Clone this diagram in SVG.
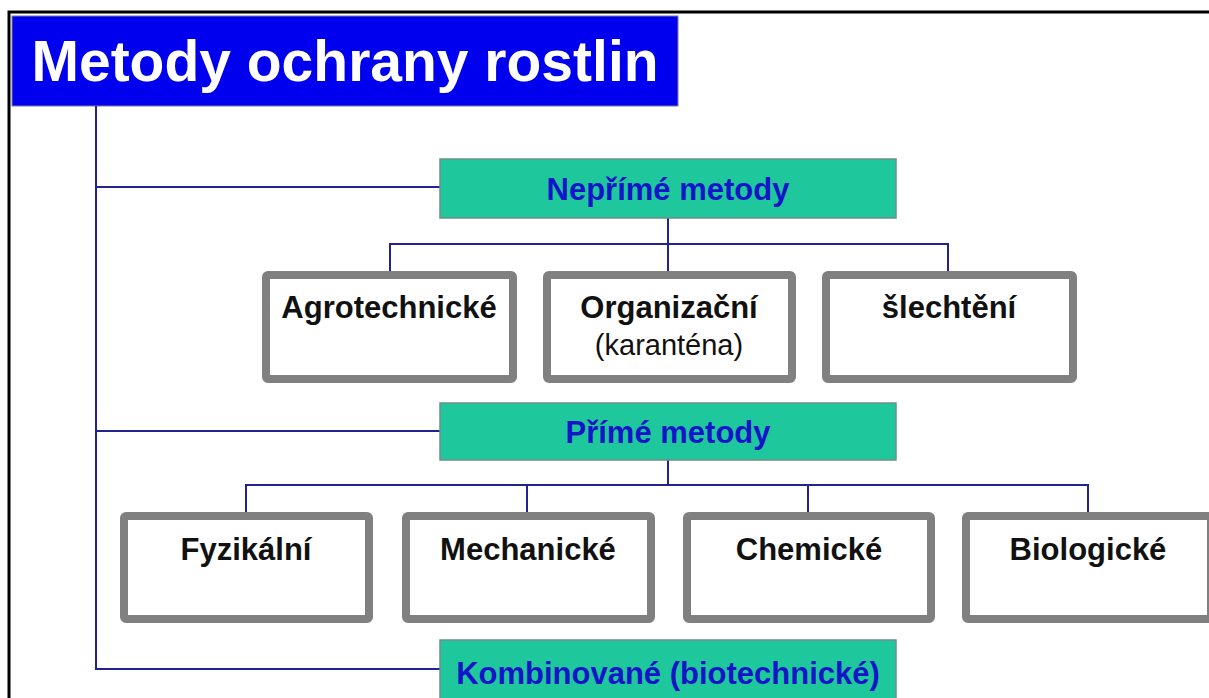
<svg xmlns="http://www.w3.org/2000/svg" width="1209" height="698" viewBox="0 0 1209 698">
<style>
.frame{stroke:#000;stroke-width:3;fill:none}
.conn{stroke:#23238f;stroke-width:2;fill:none}
.green{fill:#1fc89c;stroke:#6f8f86;stroke-width:1.5}
.gray{fill:#fff;stroke:#808080;stroke-width:8}
.gt{font-family:"Liberation Sans",Arial,sans-serif;font-weight:bold;font-size:31px;fill:#1414c8;text-anchor:middle}
.bt{font-family:"Liberation Sans",Arial,sans-serif;font-weight:bold;font-size:31px;fill:#111;text-anchor:middle}
.st{font-family:"Liberation Sans",Arial,sans-serif;font-size:29px;fill:#111;text-anchor:middle}
</style>
<rect width="1209" height="698" fill="#fff"/>
<path class="frame" d="M9,698 V12 H1209"/>
<g id="title">
<rect x="12" y="16" width="666" height="90" fill="#0000ee" stroke="#7a7aa0" stroke-width="1"/>
<text x="345" y="81" font-family="Liberation Sans,Arial,sans-serif" font-weight="bold" font-size="57" fill="#fff" text-anchor="middle">Metody ochrany rostlin</text>
</g>
<g id="connectors">
<path class="conn" d="M96,106 V669 H440 M96,187 H440 M96,431 H440"/>
<path class="conn" d="M668,218 V271 M390,271 V244 H948 V271"/>
<path class="conn" d="M668,460 V485 M246,512 V485 H1088 V512 M527,485 V512 M808,485 V512"/>
</g>
<g id="neprime">
<rect class="green" x="440" y="159" width="456" height="59"/>
<text class="gt" x="668" y="200">Nepřímé metody</text>
</g>
<g id="agrotechnicke">
<rect class="gray" x="266" y="275" width="247" height="104" rx="2"/>
<text class="bt" x="389" y="318">Agrotechnické</text>
</g>
<g id="organizacni">
<rect class="gray" x="547" y="275" width="245" height="104" rx="2"/>
<text class="bt" x="669" y="318">Organizační</text>
<text class="st" x="669" y="355">(karanténa)</text>
</g>
<g id="slechteni">
<rect class="gray" x="826" y="275" width="247" height="104" rx="2"/>
<text class="bt" x="949" y="318">šlechtění</text>
</g>
<g id="prime">
<rect class="green" x="440" y="403" width="456" height="57"/>
<text class="gt" x="668" y="443">Přímé metody</text>
</g>
<g id="fyzikalni">
<rect class="gray" x="124" y="516" width="245" height="103" rx="2"/>
<text class="bt" x="246" y="560">Fyzikální</text>
</g>
<g id="mechanicke">
<rect class="gray" x="406" y="516" width="245" height="103" rx="2"/>
<text class="bt" x="528" y="560">Mechanické</text>
</g>
<g id="chemicke">
<rect class="gray" x="687" y="516" width="244" height="103" rx="2"/>
<text class="bt" x="809" y="560">Chemické</text>
</g>
<g id="biologicke">
<rect class="gray" x="966" y="516" width="245" height="103" rx="2"/>
<text class="bt" x="1088" y="560">Biologické</text>
</g>
<g id="kombinovane">
<rect class="green" x="440" y="640" width="456" height="70"/>
<text class="gt" x="668" y="684">Kombinované (biotechnické)</text>
</g>
</svg>
